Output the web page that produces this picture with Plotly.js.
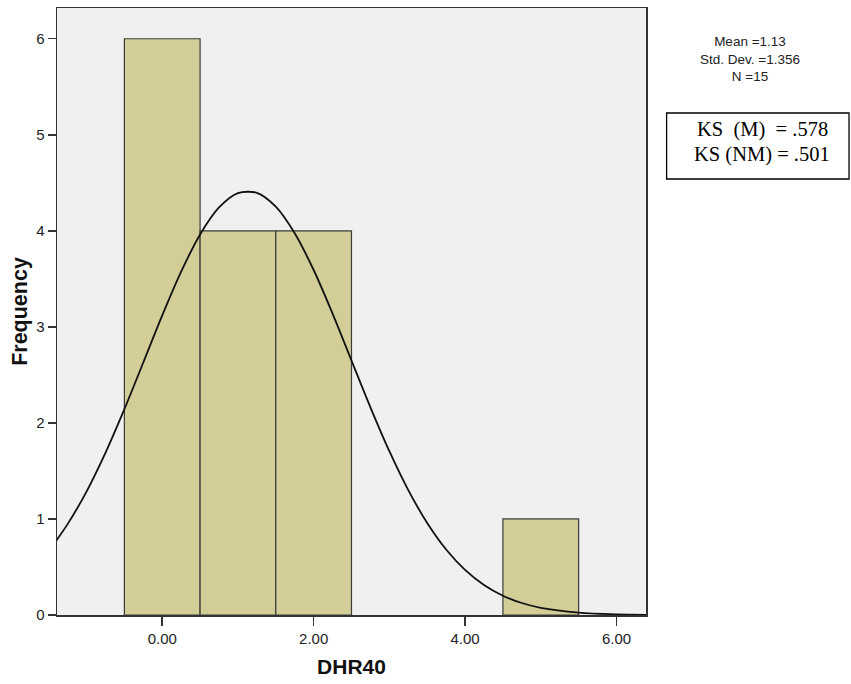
<!DOCTYPE html>
<html>
<head>
<meta charset="utf-8">
<script src="https://cdn.plot.ly/plotly-3.0.1.min.js"></script>
<style>html,body{margin:0;padding:0;background:#fff;}#chart{width:851px;height:684px;}</style>
</head>
<body>
<div id="chart"></div>
<script>
// Histogram bins (centers) and frequencies
const binCenters = [0, 1, 2, 5];
const frequencies = [6, 4, 4, 1];
const binWidth = [1, 1, 1, 1];

// Normal curve points
const curveX = [-1.4, -1.25, -1.0, -0.75, -0.5, -0.25, 0.0, 0.25, 0.5, 0.75, 1.0, 1.25, 1.5, 1.75, 2.0, 2.25, 2.5, 2.75, 3.0, 3.25, 3.5, 3.75, 4.0, 4.25, 4.5, 4.75, 5.0, 5.5, 6.0, 6.4];
const curveY = [0.774, 0.946, 1.285, 1.688, 2.143, 2.629, 3.119, 3.575, 3.962, 4.243, 4.393, 4.396, 4.252, 3.975, 3.592, 3.138, 2.649, 2.162, 1.705, 1.300, 0.958, 0.682, 0.470, 0.313, 0.201, 0.125, 0.075, 0.025, 0.007, 0.002];

// Tick labels
const xTickVals = [0, 2, 4, 6];
const xTickText = ['0.00', '2.00', '4.00', '6.00'];
const yTickVals = [0, 1, 2, 3, 4, 5, 6];

const statsLines = ['Mean =1.13', 'Std. Dev. =1.356', 'N =15'];
const ksLines = ['KS&nbsp;&nbsp;(M)&nbsp;&nbsp;= .578', 'KS (NM) = .501'];

const traces = [
  {
    type: 'bar',
    x: binCenters,
    y: frequencies,
    width: binWidth,
    marker: {color: '#d3ce97', line: {color: '#3a3a3a', width: 1.2}},
    hoverinfo: 'x+y'
  },
  {
    type: 'scatter',
    mode: 'lines',
    x: curveX,
    y: curveY,
    line: {color: '#111111', width: 1.8, shape: 'spline', smoothing: 0.8},
    hoverinfo: 'skip'
  }
];

const ksY = [0.8005, 0.7593];

const annotations = [
  {xref: 'paper', yref: 'paper', x: 1.1766, y: 0.916, xanchor: 'center', yanchor: 'middle',
   text: statsLines.join('<br>'), showarrow: false, align: 'center',
   font: {size: 13.5, color: '#222222', family: 'Liberation Sans, Arial, sans-serif'}}
];
ksLines.forEach((t, i) => annotations.push({
  xref: 'paper', yref: 'paper', x: 1.197, y: ksY[i], xanchor: 'center', yanchor: 'middle',
  text: t, showarrow: false,
  font: {size: 20.5, color: '#000000', family: 'Liberation Serif, Times New Roman, serif'}
}));

const layout = {
  width: 851,
  height: 684,
  margin: {l: 57, r: 205, t: 8, b: 69},
  paper_bgcolor: '#ffffff',
  plot_bgcolor: '#f0f0f0',
  showlegend: false,
  bargap: 0,
  font: {family: 'Liberation Sans, Arial, sans-serif', color: '#222222'},
  xaxis: {
    range: [-1.39, 6.39],
    tickvals: xTickVals,
    ticktext: xTickText,
    ticks: 'outside',
    ticklen: 9,
    tickwidth: 1.5,
    tickcolor: '#333333',
    tickfont: {size: 15, color: '#222222'},
    showgrid: false,
    zeroline: false,
    showline: true,
    mirror: true,
    linecolor: '#333333',
    linewidth: 1.5,
    title: {text: '<b>DHR40</b>', font: {size: 21, color: '#111111'}, standoff: 14}
  },
  yaxis: {
    range: [0, 6.32],
    tickvals: yTickVals,
    ticks: 'outside',
    ticklen: 8,
    tickwidth: 1.5,
    tickcolor: '#333333',
    tickfont: {size: 15, color: '#222222'},
    showgrid: false,
    zeroline: false,
    showline: true,
    mirror: true,
    linecolor: '#333333',
    linewidth: 1.5,
    title: {text: '<b>Frequency</b>', font: {size: 21.5, color: '#111111'}, standoff: 2}
  },
  shapes: [
    {type: 'rect', xref: 'paper', yref: 'paper', x0: 1.035, x1: 1.3447, y0: 0.7183, y1: 0.827,
     line: {color: '#000000', width: 1.3}, fillcolor: 'rgba(0,0,0,0)'}
  ],
  annotations: annotations
};

Plotly.newPlot('chart', traces, layout, {displayModeBar: false, staticPlot: true});
</script>
</body>
</html>
